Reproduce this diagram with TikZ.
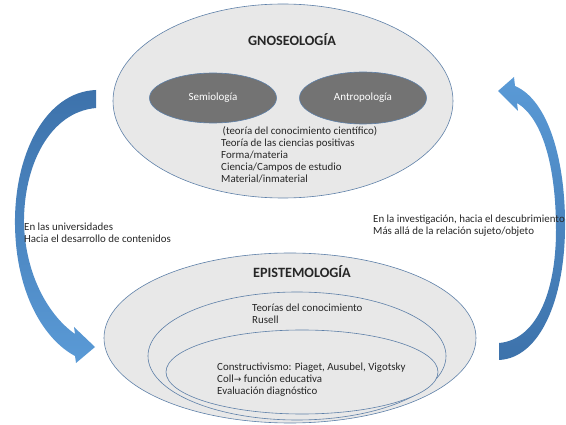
\documentclass[tikz,border=0pt]{standalone}
\usepackage{fontspec}
\setmainfont{Carlito}
\newfontfamily\arrowglyph{DejaVu Sans}
\usetikzlibrary{shapes.geometric}
\definecolor{rim}{HTML}{5E80A8}
\definecolor{pale}{HTML}{E8E8E8}
\definecolor{slate}{HTML}{737373}
\definecolor{ink}{HTML}{262626}
\definecolor{deepblue}{HTML}{3D72AB}
\definecolor{lightblue}{HTML}{5A9AD6}
\tikzset{
  bigoval/.style={ellipse,draw=rim,fill=pale,line width=.6pt,inner sep=0},
  darkoval/.style={ellipse,draw=rim,fill=slate,line width=.6pt,text=white,font=\fontsize{11}{13}\selectfont},
  headtxt/.style={text=ink,font=\fontsize{14.2}{16}\selectfont\bfseries},
  notes/.style={align=left,anchor=west,inner sep=0,text=ink,font=\fontsize{10.9}{12}\selectfont}
}
\begin{document}
\begin{tikzpicture}[x=1pt,y=-1pt]
\useasboundingbox (0,0) rectangle (566,425);

\node[bigoval,minimum width=340pt,minimum height=194pt] (gnoseo) at (283,101) {}; %top oval
\node[headtxt] (gtitle) at (292,40) {GNOSEOLOGÍA};
\node[darkoval,minimum width=127pt,minimum height=50pt] (semio) at (213,98) {Semiología};
\node[darkoval,minimum width=127pt,minimum height=52pt] (antropo) at (363,98) {Antropología};
\node[notes] (gtext) at (221,155) {\hspace{1.5pt}(teoría del conocimiento científico)\\Teoría de las ciencias positivas\\Forma/materia\\Ciencia/Campos de estudio\\Material/inmaterial};

\node[bigoval,minimum width=372pt,minimum height=170pt] (episte) at (290,338) {}; %bottom ovals
\node[bigoval,minimum width=298pt,minimum height=128pt] (teorias) at (297,356) {};
\node[bigoval,minimum width=272pt,minimum height=84pt] (construct) at (302,372) {};
\node[headtxt] (etitle) at (302,272) {EPISTEMOLOGÍA};
\node[notes] (ttext) at (252,314) {Teorías del conocimiento\\Rusell};
\node[notes] (ctext) at (217,380) {Constructivismo: Piaget, Ausubel, Vigotsky\\Coll{\arrowglyph\fontsize{9}{10}\selectfont →} función educativa\\Evaluación diagnóstico};

%left arrow, down
\shade[top color=deepblue,bottom color=lightblue] (96,90) .. controls (45,92) and (14,155) .. (15,225) .. controls (16,295) and (45,340) .. (75,356) -- (76,363) -- (95,347) -- (74,327) -- (75,334) .. controls (48,315) and (26,275) .. (24,225) .. controls (23,165) and (50,112) .. (96,108) -- cycle;
%right arrow, up
\shade[top color=lightblue,bottom color=deepblue] (499,343) .. controls (535,340) and (556,295) .. (556,230) .. controls (556,165) and (542,118) .. (517,103) -- (518,111) -- (498,91) -- (514,77) -- (515,86) .. controls (548,100) and (566,160) .. (565,230) .. controls (564,300) and (540,358) .. (499,360) -- cycle;

\node[notes] (ltext) at (24,233) {En las universidades\\Hacia el desarrollo de contenidos};
\node[notes] (rtext) at (373,226) {En la investigación, hacia el descubrimiento\\Más allá de la relación sujeto/objeto};
\end{tikzpicture}
\end{document}
